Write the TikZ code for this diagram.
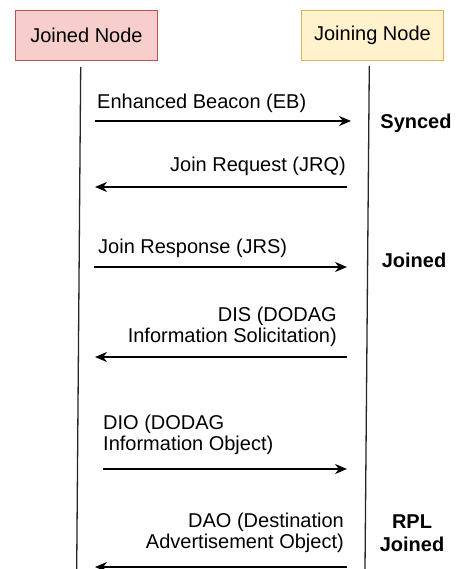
\documentclass[tikz,border=0pt]{standalone}
\usepackage{fontspec}
\setmainfont{Liberation Sans}
\usetikzlibrary{arrows.meta}
\definecolor{redfill}{HTML}{F8CECC}
\definecolor{redline}{HTML}{B85450}
\definecolor{yelfill}{HTML}{FFF2CC}
\definecolor{yelline}{HTML}{D6B656}
\begin{document}
\begin{tikzpicture}[x=1pt,y=-1pt,
  every node/.style={font=\fontsize{20}{21}\selectfont, inner sep=0pt},
  actor/.style={draw, line width=0.9pt, minimum width=142pt, minimum height=50pt, anchor=north west},
  life/.style={line width=1.3pt, draw=black!85},
  msg/.style={line width=1.3pt, -{Stealth[length=12pt,width=10pt]}},
  lbl/.style={align=left},
  rlbl/.style={align=right},
  state/.style={font=\fontsize{20}{23}\bfseries\selectfont, align=center}]
\useasboundingbox (0,0) rectangle (456,569);
\fill[white] (0,0) rectangle (456,569);
% actors
\node[actor, fill=redfill, draw=redline] (joined) at (15,10) {Joined Node};
\node[actor, fill=yelfill, draw=yelline] (joining) at (301,10) {Joining Node};
% lifelines
\coordinate (lt) at (80.7,67);
\coordinate (lb) at (76.7,569);
\coordinate (rt) at (369.3,66);
\coordinate (rb) at (365,569);
\draw[life] (lt) -- (lb);
\draw[life] (rt) -- (rb);
% message endpoints
\coordinate (a1) at (95,121);  \coordinate (b1) at (351,121);
\coordinate (a2) at (347,187); \coordinate (b2) at (95,187);
\coordinate (a3) at (94,267);  \coordinate (b3) at (347,267);
\coordinate (a4) at (347,357); \coordinate (b4) at (95,357);
\coordinate (a5) at (103,469); \coordinate (b5) at (347,469);
\coordinate (a6) at (347,567); \coordinate (b6) at (95,567);
\draw[msg] (a1) -- (b1);
\draw[msg] (a2) -- (b2);
\draw[msg] (a3) -- (b3);
\draw[msg] (a4) -- (b4);
\draw[msg] (a5) -- (b5);
\draw[msg] (a6) -- (b6);
% labels
\node[lbl, anchor=west] (l1) at (97,103) {Enhanced Beacon (EB)};
\node[rlbl, anchor=east] (l2) at (346,166) {Join Request (JRQ)};
\node[lbl, anchor=west] (l3) at (98,248) {Join Response (JRS)};
\node[rlbl, anchor=east] (l4) at (337,327) {DIS (DODAG\\Information Solicitation)};
\node[lbl, anchor=west] (l5) at (103,435) {DIO (DODAG\\Information Object)};
\node[rlbl, anchor=east] (l6) at (344,532.5) {DAO (Destination\\Advertisement Object)};
% states
\node[state] (s1) at (416,123) {Synced};
\node[state] (s2) at (414,260) {Joined};
\node[state] (s3) at (412,533) {RPL\\Joined};
\end{tikzpicture}
\end{document}
